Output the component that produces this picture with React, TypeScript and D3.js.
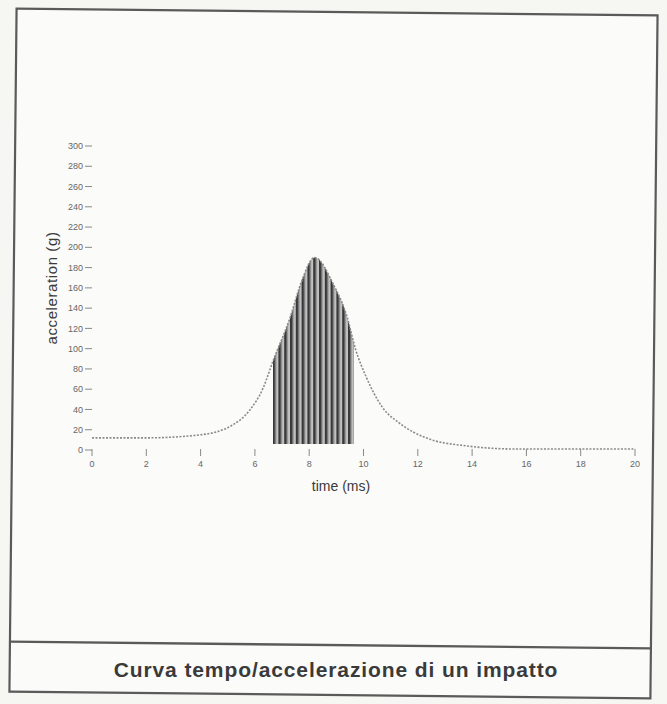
import React from 'react';
import * as d3 from 'd3';

// values (time in ms, acceleration in g)
const times = [0, 2, 4, 5.2, 5.8, 6.3, 6.67, 7.3, 7.7, 8.2, 8.9, 9.4, 9.7, 10.1, 10.7, 11.3, 12.3, 13.8, 15.6, 18, 20];
const accel = [12, 12, 15, 25, 39, 61, 88, 131, 165, 190, 163, 131, 100, 72, 42, 27, 12, 4, 1, 1, 1];

const yTicks = [0, 20, 40, 60, 80, 100, 120, 140, 160, 180, 200, 220, 240, 260, 280, 300];
const xTicks = [0, 2, 4, 6, 8, 10, 12, 14, 16, 18, 20];

// shaded impact window
const shadeStart = 6.67;
const shadeEnd = 9.65;

const caption = 'Curva tempo/accelerazione di un impatto';

export default function App() {
    const width = 667;
    const height = 704;

    const xScale = d3.scaleLinear().domain([0, 20]).range([92, 635]);
    const yScale = d3.scaleLinear().domain([0, 300]).range([450, 146]);

    const points = times.map((t, i) => ({ t, g: accel[i] }));

    const line = d3.line<{ t: number; g: number }>()
        .x(d => xScale(d.t))
        .y(d => yScale(d.g))
        .curve(d3.curveMonotoneX);

    const area = d3.area<{ t: number; g: number }>()
        .x(d => xScale(d.t))
        .y0(yScale(6))
        .y1(d => yScale(d.g))
        .curve(d3.curveMonotoneX);

    const font = '"Liberation Sans", Arial, sans-serif';

    return (
        <div style={{ position: 'absolute', top: 0, left: 0 }}>
            <svg width={width} height={height} style={{ display: 'block' }}>
                <defs>
                    <pattern id="stripes" patternUnits="userSpaceOnUse" width="5.8" height="10">
                        <rect width="5.8" height="10" fill="#9a9a9a" />
                        <rect x="0" width="2.4" height="10" fill="#383838" />
                        <rect x="4.3" width="1.1" height="10" fill="#dedede" />
                    </pattern>
                    <clipPath id="window">
                        <rect
                            x={xScale(shadeStart)}
                            y={0}
                            width={xScale(shadeEnd) - xScale(shadeStart)}
                            height={height}
                        />
                    </clipPath>
                </defs>

                <rect width={width} height={height} fill="#f6f6f3" />

                {/* scanned frame, slightly skewed */}
                <g transform="rotate(0.6, 333, 352)" fill="none" stroke="#5a5a5a">
                    <rect x={13} y={12} width={641} height={683} strokeWidth={2.2} fill="#fbfbf9" />
                    <line x1={13} y1={645} x2={654} y2={645} strokeWidth={2.4} />
                </g>

                {/* y axis ticks */}
                <g>
                    {yTicks.map(tick => (
                        <g key={tick}>
                            <line
                                x1={85}
                                x2={92}
                                y1={yScale(tick)}
                                y2={yScale(tick)}
                                stroke="#888"
                                strokeWidth={1}
                            />
                            <text
                                x={83}
                                y={yScale(tick)}
                                dy="0.35em"
                                textAnchor="end"
                                fontSize={9}
                                fontFamily={font}
                                fill="#666"
                            >
                                {tick}
                            </text>
                        </g>
                    ))}
                </g>

                {/* x axis ticks */}
                <g>
                    {xTicks.map(tick => (
                        <g key={tick}>
                            <line
                                x1={xScale(tick)}
                                x2={xScale(tick)}
                                y1={449}
                                y2={456}
                                stroke="#888"
                                strokeWidth={1}
                            />
                            <text
                                x={xScale(tick)}
                                y={467}
                                textAnchor="middle"
                                fontSize={9}
                                fontFamily={font}
                                fill="#666"
                            >
                                {tick}
                            </text>
                        </g>
                    ))}
                </g>

                {/* shaded window under the peak */}
                <path d={area(points) || ''} fill="url(#stripes)" clipPath="url(#window)" />

                {/* curve */}
                <path
                    d={line(points) || ''}
                    fill="none"
                    stroke="#8a8a8a"
                    strokeWidth={1.6}
                    strokeDasharray="2 1.5"
                />

                {/* axis titles */}
                <text
                    x={341}
                    y={491}
                    textAnchor="middle"
                    fontSize={14}
                    fontFamily={font}
                    fill="#3a3a3a"
                >
                    time (ms)
                </text>
                <text
                    transform="translate(57, 288) rotate(-90)"
                    textAnchor="middle"
                    fontSize={15}
                    letterSpacing={0.6}
                    fontFamily={font}
                    fill="#3a3a3a"
                >
                    acceleration (g)
                </text>

                {/* caption */}
                <text
                    x={336}
                    y={677}
                    textAnchor="middle"
                    fontSize={21}
                    fontWeight="bold"
                    letterSpacing={0.9}
                    fontFamily={font}
                    fill="#3a3a3a"
                >
                    {caption}
                </text>
            </svg>
        </div>
    );
}
